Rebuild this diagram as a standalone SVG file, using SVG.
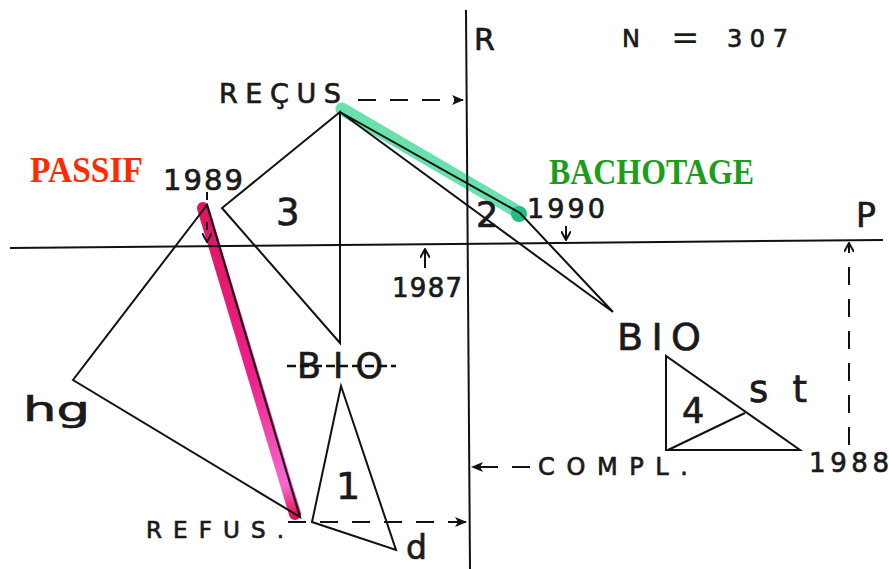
<svg xmlns="http://www.w3.org/2000/svg" width="889" height="569" viewBox="0 0 889 569">
<defs>
<marker id="ah" markerWidth="12" markerHeight="10" refX="11" refY="5" orient="auto" markerUnits="userSpaceOnUse"><path d="M0,0 L12,5 L0,10 L3,5 z" fill="#111"/></marker>
<marker id="sh" markerWidth="10" markerHeight="10" refX="9" refY="5" orient="auto" markerUnits="userSpaceOnUse"><path d="M0,0 L9,5 L0,10" fill="none" stroke="#111" stroke-width="2"/></marker>
<linearGradient id="pk" x1="207" y1="207" x2="297" y2="515" gradientUnits="userSpaceOnUse"><stop offset="0" stop-color="#e01562"/><stop offset="0.55" stop-color="#f0208a"/><stop offset="0.9" stop-color="#f56ad0"/><stop offset="1" stop-color="#e5104e"/></linearGradient>
</defs>
<style>
.ln{stroke:#111;stroke-width:2;fill:none;stroke-linejoin:miter}
.ds{stroke:#111;stroke-width:2;fill:none;stroke-dasharray:18 14}
.t{font-family:"DejaVu Sans","Liberation Sans",Arial,sans-serif;fill:#1a1a1a;stroke:#1a1a1a;stroke-width:0.7}
.s{font-family:"Liberation Serif","Times New Roman",serif;font-weight:bold}
</style>
<rect width="889" height="569" fill="#fff"/>
<g id="highlights">
<line x1="342" y1="109" x2="518" y2="212" stroke="#4edc9f" stroke-width="13" stroke-linecap="round" opacity="0.85"/>
<circle cx="519" cy="214" r="8" fill="#22bf80"/>
<line x1="203" y1="208" x2="295" y2="514" stroke="url(#pk)" stroke-width="12" stroke-linecap="round"/>
</g>
<g id="axes">
<line class="ln" x1="10" y1="248" x2="883" y2="240"/>
<line class="ln" x1="466" y1="10" x2="470" y2="569"/>
</g>
<g id="connectors">
<line class="ds" x1="358" y1="100" x2="463" y2="100" marker-end="url(#ah)"/>
<line class="ds" x1="288" y1="522" x2="466" y2="522" marker-end="url(#ah)"/>
<line class="ds" x1="530" y1="467" x2="472" y2="467" stroke-dasharray="12 20" marker-end="url(#ah)"/>
<line class="ds" x1="849" y1="445" x2="849" y2="243" stroke-dasharray="13 10" marker-end="url(#sh)"/>
<line class="ln" x1="207" y1="192" x2="207" y2="242" marker-end="url(#sh)" stroke-dasharray="8 22"/>
<line class="ln" x1="425" y1="268" x2="425" y2="249" marker-end="url(#sh)"/>
<line class="ln" x1="566" y1="226" x2="566" y2="240" marker-end="url(#sh)"/>
</g>
<g id="triangle3">
<polygon class="ln" points="340,112 222,208 340,343"/>
<text class="t" x="276" y="225" font-size="37">3</text>
</g>
<g id="triangle2">
<polygon class="ln" points="340,112 520,213 613,312"/>
<text class="t" x="476" y="227" font-size="35">2</text>
</g>
<g id="triangle-hg">
<polygon class="ln" points="207,205 73,380 300,517"/>
<text class="t" x="23" y="421" font-size="34" textLength="67" lengthAdjust="spacingAndGlyphs">hg</text>
</g>
<g id="triangle1">
<polygon class="ln" points="341,386 312,522 396,550"/>
<text class="t" x="336" y="499" font-size="38">1</text>
</g>
<g id="triangle4">
<polygon class="ln" points="666,356 666,450 800,450"/>
<line class="ln" x1="668" y1="450" x2="745" y2="413"/>
<text class="t" x="682" y="423" font-size="35">4</text>
</g>
<g id="bio-struck">
<text class="t" x="297" y="378" font-size="35" textLength="86" lengthAdjust="spacing">BIO</text>
<line x1="287" y1="366" x2="396" y2="366" stroke="#111" stroke-width="2.5" stroke-dasharray="9 4"/>
</g>
<g id="labels">
<text class="t" x="474" y="50" font-size="30">R</text>
<text class="t" y="47" font-size="24"><tspan x="622">N</tspan><tspan x="671" font-size="34" y="49" stroke-width="0">=</tspan><tspan x="727" y="47" textLength="61" lengthAdjust="spacing">307</tspan></text>
<text class="t" x="219" y="103" font-size="27" textLength="122" lengthAdjust="spacing">REÇUS</text>
<text class="s" x="30" y="182" font-size="35" fill="#ff2a00" textLength="113" lengthAdjust="spacingAndGlyphs">PASSIF</text>
<text class="s" x="549" y="184" font-size="35" fill="#1c9e1c" textLength="205" lengthAdjust="spacingAndGlyphs">BACHOTAGE</text>
<text class="t" x="163" y="190" font-size="29" textLength="80" lengthAdjust="spacing">1989</text>
<text class="t" x="527" y="218" font-size="27" textLength="78" lengthAdjust="spacing">1990</text>
<text class="t" x="392" y="297" font-size="26" textLength="70" lengthAdjust="spacing">1987</text>
<text class="t" x="856" y="227" font-size="33">P</text>
<text class="t" x="617" y="350" font-size="38" textLength="84" lengthAdjust="spacing">BIO</text>
<text class="t" x="749" y="402" font-size="37" textLength="58" lengthAdjust="spacing">st</text>
<text class="t" x="809" y="472" font-size="26" textLength="80" lengthAdjust="spacing">1988</text>
<text class="t" x="538" y="475" font-size="24" textLength="150" lengthAdjust="spacing">COMPL.</text>
<text class="t" x="146" y="538" font-size="23" textLength="138" lengthAdjust="spacing">REFUS.</text>
<text class="t" x="406" y="559" font-size="33">d</text>
</g>
</svg>
